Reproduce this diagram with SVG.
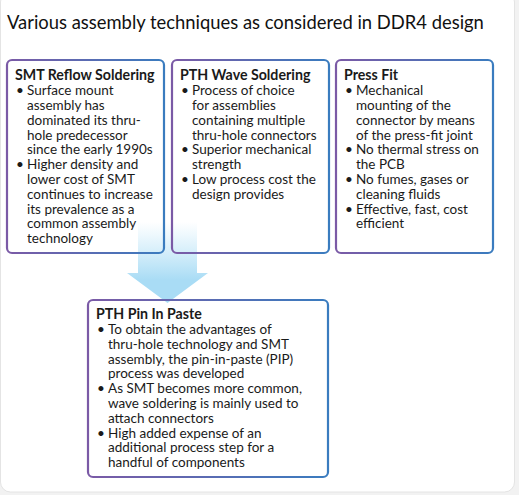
<svg xmlns="http://www.w3.org/2000/svg" width="519" height="495" viewBox="0 0 519 495">
  <defs>
    <linearGradient id="border" x1="0" y1="0" x2="1" y2="0">
      <stop offset="0" stop-color="#7b5aa6"/>
      <stop offset="1" stop-color="#3a7cbf"/>
    </linearGradient>
    <linearGradient id="arrowFill" gradientUnits="userSpaceOnUse" x1="0" y1="222" x2="0" y2="280">
      <stop offset="0" stop-color="#b3e1f7" stop-opacity="0"/>
      <stop offset="1" stop-color="#a9dcf5"/>
    </linearGradient>
    <style>
      .title { font-family: Lato, "Liberation Sans", sans-serif; font-size: 18.4px; fill: #111111; }
      .head { font-family: Lato, "Liberation Sans", sans-serif; font-size: 14.2px; font-weight: bold; fill: #1a1a1a; }
      .body { font-family: Lato, "Liberation Sans", sans-serif; font-size: 13.5px; fill: #1a1a1a; }
      .box { fill: none; stroke: url(#border); stroke-width: 2.2; }
    </style>
  </defs>
  <rect x="0" y="0" width="519" height="495" fill="#f2f2f2"/>
  <rect x="0.5" y="-8" width="514" height="500" rx="10" fill="#ffffff" stroke="#e4e4e4"/>
  <text class="title" x="7" y="29">Various assembly techniques as considered in DDR4 design</text>

  <g id="connectors">
    <path d="M138,222 H197 V273 H208 L167.5,303 L127,273 H138 Z" fill="url(#arrowFill)"/>
  </g>

  <g id="smt-reflow">
    <rect class="box" x="7" y="60" width="157" height="193" rx="5"/>
    <text class="head" x="15" y="80">SMT Reflow Soldering</text>
    <text class="body">
      <tspan x="16" y="95">•</tspan><tspan x="27" y="95">Surface mount</tspan>
      <tspan x="27" y="110">assembly has</tspan>
      <tspan x="27" y="124.8">dominated its thru-</tspan>
      <tspan x="27" y="139.6">hole predecessor</tspan>
      <tspan x="27" y="154.4">since the early 1990s</tspan>
      <tspan x="16" y="169.2">•</tspan><tspan x="27" y="169.2">Higher density and</tspan>
      <tspan x="27" y="184">lower cost of SMT</tspan>
      <tspan x="27" y="198.8">continues to increase</tspan>
      <tspan x="27" y="213.6">its prevalence as a</tspan>
      <tspan x="27" y="228.4">common assembly</tspan>
      <tspan x="27" y="243.2">technology</tspan>
    </text>
  </g>

  <g id="pth-wave">
    <rect class="box" x="172" y="60" width="157" height="193" rx="5"/>
    <text class="head" x="180" y="80">PTH Wave Soldering</text>
    <text class="body">
      <tspan x="181" y="95">•</tspan><tspan x="192" y="95">Process of choice</tspan>
      <tspan x="192" y="110">for assemblies</tspan>
      <tspan x="192" y="124.8">containing multiple</tspan>
      <tspan x="192" y="139.6">thru-hole connectors</tspan>
      <tspan x="181" y="154.4">•</tspan><tspan x="192" y="154.4">Superior mechanical</tspan>
      <tspan x="192" y="169.2">strength</tspan>
      <tspan x="181" y="184">•</tspan><tspan x="192" y="184">Low process cost the</tspan>
      <tspan x="192" y="198.8">design provides</tspan>
    </text>
  </g>

  <g id="press-fit">
    <rect class="box" x="336" y="60" width="157" height="193" rx="5"/>
    <text class="head" x="344" y="80">Press Fit</text>
    <text class="body">
      <tspan x="345" y="95">•</tspan><tspan x="356" y="95">Mechanical</tspan>
      <tspan x="356" y="110">mounting of the</tspan>
      <tspan x="356" y="124.8">connector by means</tspan>
      <tspan x="356" y="139.6">of the press-fit joint</tspan>
      <tspan x="345" y="154.4">•</tspan><tspan x="356" y="154.4">No thermal stress on</tspan>
      <tspan x="356" y="169.2">the PCB</tspan>
      <tspan x="345" y="184">•</tspan><tspan x="356" y="184">No fumes, gases or</tspan>
      <tspan x="356" y="198.8">cleaning fluids</tspan>
      <tspan x="345" y="213.6">•</tspan><tspan x="356" y="213.6">Effective, fast, cost</tspan>
      <tspan x="356" y="228.4">efficient</tspan>
    </text>
  </g>

  <g id="pth-pip">
    <rect class="box" x="88" y="300" width="240" height="177" rx="5"/>
    <text class="head" x="96" y="319">PTH Pin In Paste</text>
    <text class="body">
      <tspan x="97" y="334">•</tspan><tspan x="108" y="334">To obtain the advantages of</tspan>
      <tspan x="108" y="348.8">thru-hole technology and SMT</tspan>
      <tspan x="108" y="363.6">assembly, the pin-in-paste (PIP)</tspan>
      <tspan x="108" y="378.4">process was developed</tspan>
      <tspan x="97" y="393.2">•</tspan><tspan x="108" y="393.2">As SMT becomes more common,</tspan>
      <tspan x="108" y="408">wave soldering is mainly used to</tspan>
      <tspan x="108" y="422.8">attach connectors</tspan>
      <tspan x="97" y="437.6">•</tspan><tspan x="108" y="437.6">High added expense of an</tspan>
      <tspan x="108" y="452.4">additional process step for a</tspan>
      <tspan x="108" y="467.2">handful of components</tspan>
    </text>
  </g>
</svg>
